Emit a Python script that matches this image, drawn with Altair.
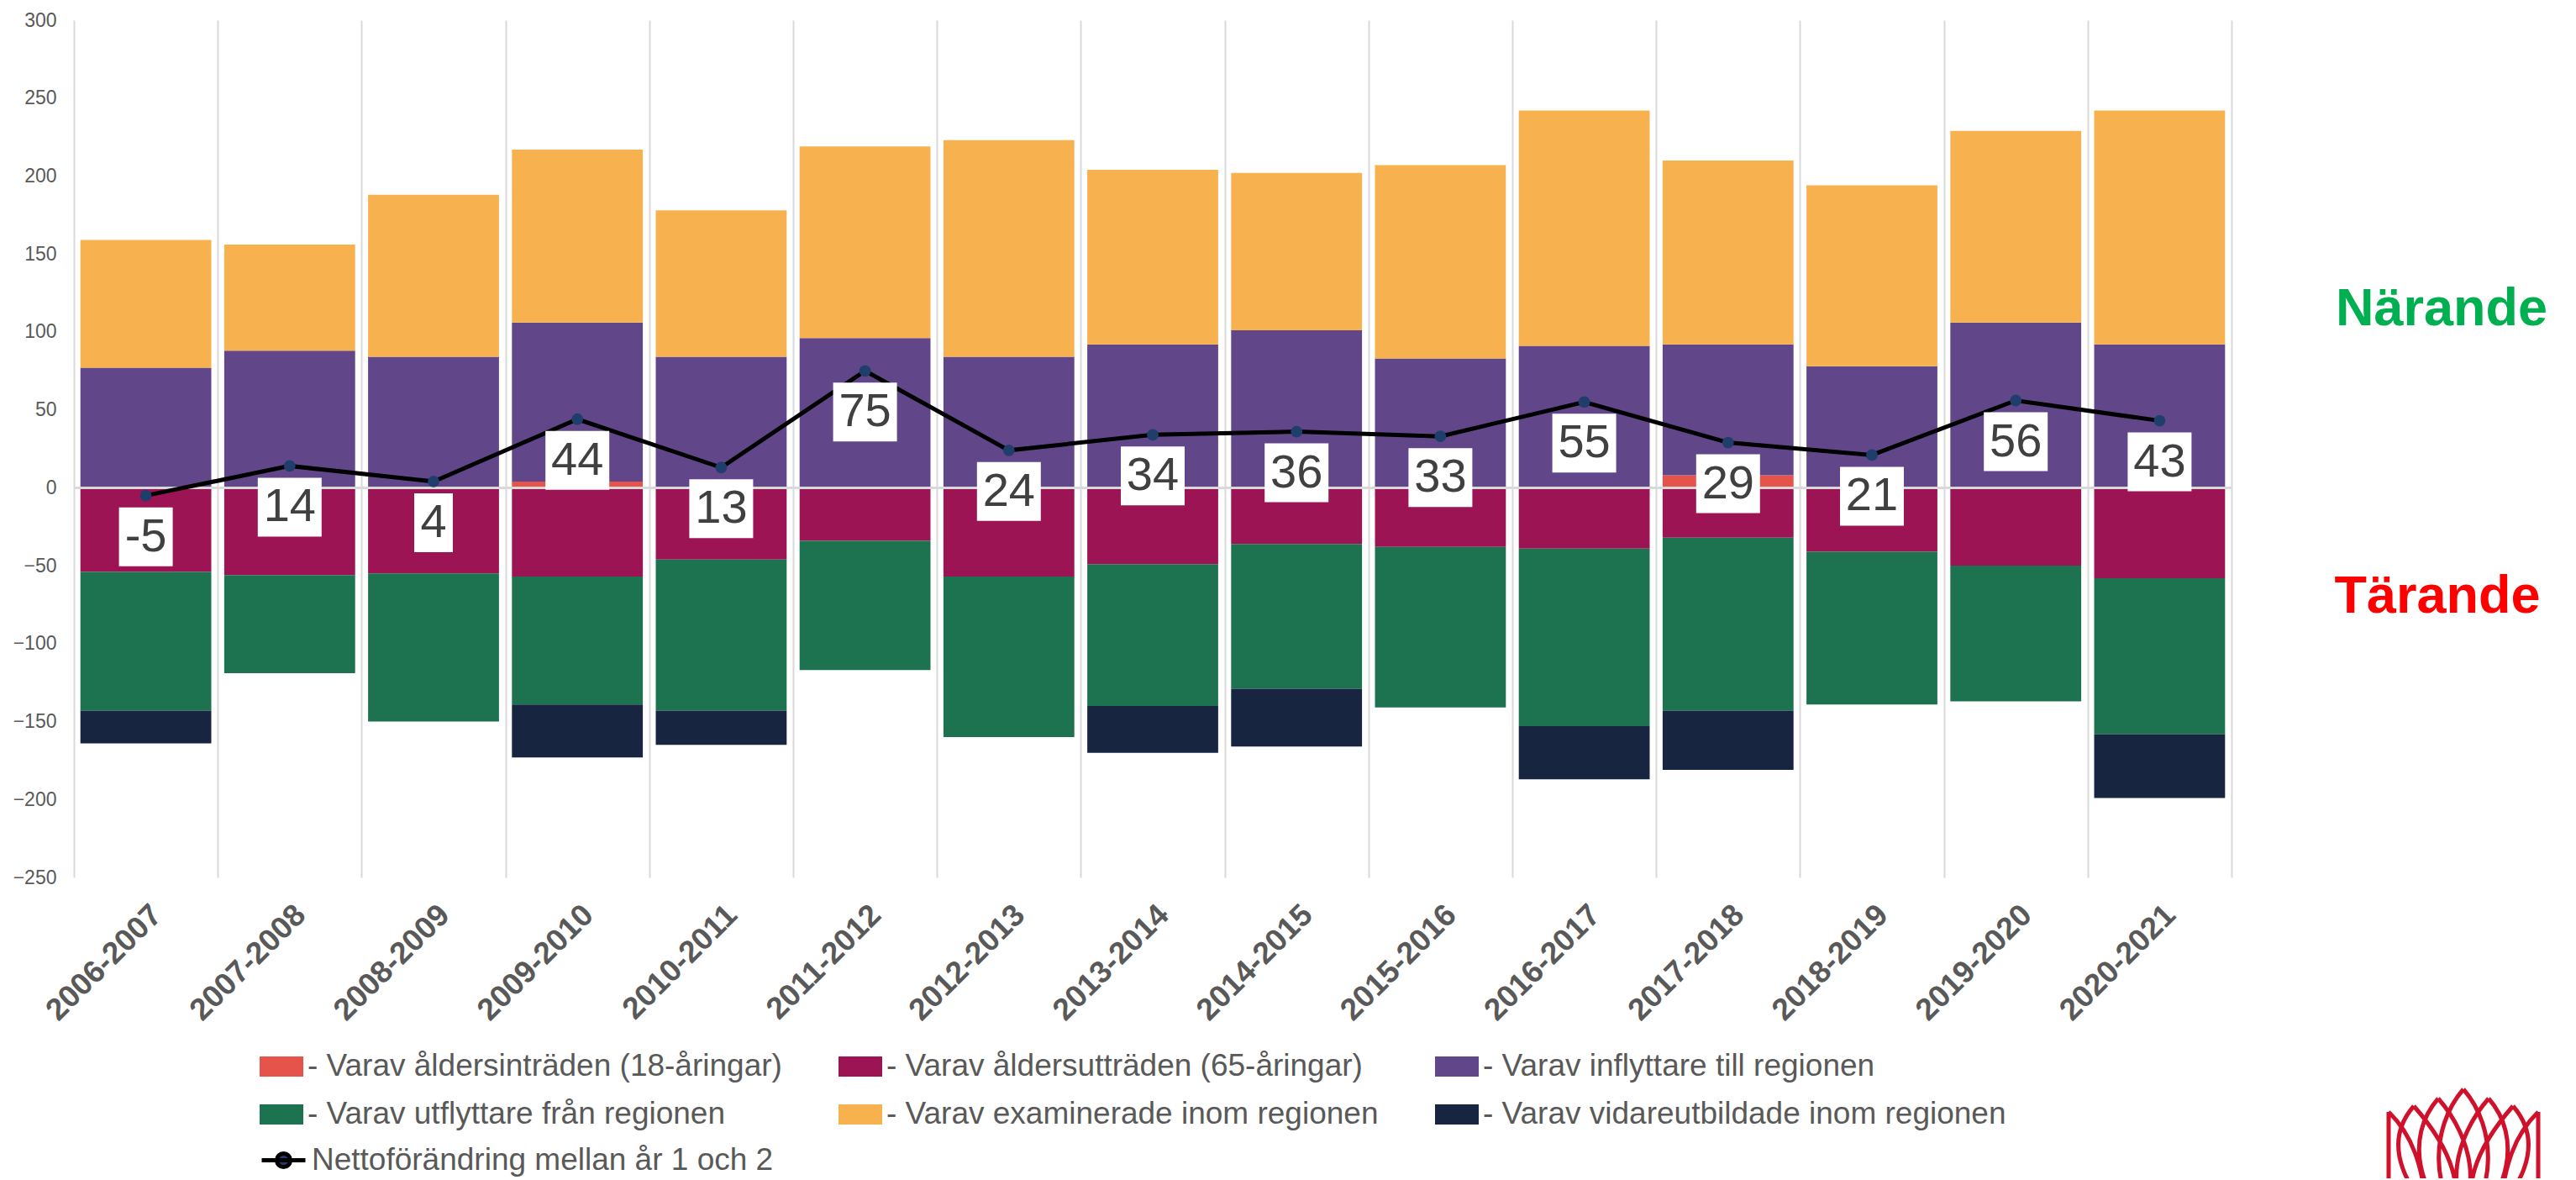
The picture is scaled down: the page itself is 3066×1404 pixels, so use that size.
import altair as alt
import pandas as pd

# ---------------- data ----------------
cats = ["2006-2007", "2007-2008", "2008-2009", "2009-2010", "2010-2011",
        "2011-2012", "2012-2013", "2013-2014", "2014-2015", "2015-2016",
        "2016-2017", "2017-2018", "2018-2019", "2019-2020", "2020-2021"]

series_names = ["Varav åldersinträden (18-åringar)",
                "Varav åldersutträden (65-åringar)",
                "Varav inflyttare till regionen",
                "Varav utflyttare från regionen",
                "Varav examinerade inom regionen",
                "Varav vidareutbildade inom regionen"]
series_colors = ["#E5534A", "#9D1454", "#61478A", "#1D7250", "#F7B24F", "#172540"]

aldersintraden = [0, 0, 0, 4, 0, 0, 0, 0, 0, 0, 0, 8, 0, 0, 0]
aldersuttraden = [-54, -56, -55, -57, -46, -34, -57, -49, -36, -38, -39, -32, -41, -50, -58]
inflyttare = [77, 88, 84, 102, 84, 96, 84, 92, 101, 83, 91, 84, 78, 106, 92]
utflyttare = [-89, -63, -95, -82, -97, -83, -103, -91, -93, -103, -114, -111, -98, -87, -100]
examinerade = [82, 68, 104, 111, 94, 123, 139, 112, 101, 124, 151, 118, 116, 123, 150]
vidareutbildade = [-21, 0, 0, -34, -22, 0, 0, -30, -37, 0, -34, -38, 0, 0, -41]

netto = [-5, 14, 4, 44, 13, 75, 24, 34, 36, 33, 55, 29, 21, 56, 43]
netto_name = "Nettoförändring mellan år 1 och 2"

y_ticks = [-250, -200, -150, -100, -50, 0, 50, 100, 150, 200, 250, 300]

# ---------------- tables ----------------
series_values = [aldersintraden, aldersuttraden, inflyttare, utflyttare,
                 examinerade, vidareutbildade]
rows = []
for k, (name, vals) in enumerate(zip(series_names, series_values)):
    for c, v in zip(cats, vals):
        if v != 0:
            rows.append({"cat": c, "serie": name, "val": v, "ord": k})
bars_df = pd.DataFrame(rows)

labels = [str(v) for v in netto]
widths = ["neg" if s.startswith("-") else str(len(s)) for s in labels]
line_df = pd.DataFrame({"cat": cats, "val": netto, "lbl": labels, "w": widths,
                        "serie": [netto_name] * len(cats)})

# ---------------- styles ----------------
FONT = "Liberation Sans"
GREY = "#595959"
W, H = 2568, 1020

x_enc = alt.X("cat:N", sort=cats,
              scale=alt.Scale(paddingInner=0, paddingOuter=0),
              axis=alt.Axis(title=None, labelAngle=-45, labelFontSize=37,
                            labelFontWeight="bold", labelColor=GREY, labelFont=FONT,
                            labelPadding=26, ticks=False, domain=False, grid=True,
                            gridColor="#D9D9D9", gridWidth=2, tickBand="extent",
                            labelLimit=1000))
y_axis = alt.Axis(title=None, values=y_ticks, grid=False, domain=False, ticks=False,
                  labelFontSize=23, labelColor=GREY, labelFont=FONT, labelPadding=21)
y_scale = alt.Scale(domain=[-250, 300], nice=False, zero=False)

rect_path = "M-1,-0.46L1,-0.46L1,0.46L-1,0.46Z"
line_sym = "M-1,0L1,0M-0.31,0A0.31,0.31,0,1,0,0.31,0A0.31,0.31,0,1,0,-0.31,0Z"

bars = alt.Chart(bars_df).mark_bar(width=alt.RelativeBandSize(0.91)).encode(
    x=x_enc,
    y=alt.Y("val:Q", stack="zero", scale=y_scale, axis=y_axis),
    color=alt.Color("serie:N",
                    scale=alt.Scale(domain=series_names, range=series_colors),
                    legend=alt.Legend(title=None, orient="none", legendX=221, legendY=1219,
                                      direction="horizontal", columns=3, columnPadding=67,
                                      rowPadding=13, symbolType=rect_path, symbolSize=2704,
                                      symbolStrokeWidth=0, labelFontSize=37,
                                      labelColor=GREY, labelFont=FONT, labelLimit=1200,
                                      labelOffset=5, labelExpr="'- ' + datum.label",
                                      padding=0)),
    order=alt.Order("ord:Q", sort="ascending"),
)

zero_rule = alt.Chart(line_df).mark_rule(color="#D9D9D9", strokeWidth=2).encode(
    y=alt.datum(0)
)

y_plain = alt.Y("val:Q", stack=None, scale=y_scale, axis=y_axis)

line = alt.Chart(line_df).mark_line(strokeWidth=5).encode(
    x=x_enc, y=y_plain,
    stroke=alt.Stroke("serie:N", scale=alt.Scale(domain=[netto_name], range=["#000000"]),
                      legend=alt.Legend(title=None, orient="none", legendX=221, legendY=1328,
                                        symbolType=line_sym, symbolSize=2704,
                                        symbolStrokeWidth=5, symbolFillColor="#203E6C",
                                        labelFontSize=37, labelColor=GREY, labelFont=FONT,
                                        labelLimit=1200, labelOffset=5, padding=0)),
)

points = alt.Chart(line_df).mark_point(filled=True, size=190, color="#203E6C",
                                       opacity=1).encode(x=x_enc, y=y_plain)

box_keys = ["1", "2", "neg"]
box_paths = ["M-0.575,-0.875L0.575,-0.875L0.575,0.875L-0.575,0.875Z",
             "M-0.95,-0.875L0.95,-0.875L0.95,0.875L-0.95,0.875Z",
             "M-0.8,-0.875L0.8,-0.875L0.8,0.875L-0.8,0.875Z"]

boxes = alt.Chart(line_df).mark_point(filled=True, color="white", opacity=1, size=6400,
                                      yOffset=49, strokeWidth=0).encode(
    x=x_enc, y=y_plain,
    shape=alt.Shape("w:N", scale=alt.Scale(domain=box_keys, range=box_paths), legend=None),
)

texts = alt.Chart(line_df).mark_text(dy=49, fontSize=56, color="#404040", font=FONT,
                                     baseline="middle").encode(
    x=x_enc, y=y_plain, text="lbl:N")

narande = alt.Chart(line_df.head(1)).mark_text(
    text="Närande", fontSize=63, fontWeight="bold", font=FONT, color="#00B050",
    align="center", baseline="middle").encode(x=alt.value(2818), y=alt.datum(114.5))
tarande = alt.Chart(line_df.head(1)).mark_text(
    text="Tärande", fontSize=63, fontWeight="bold", font=FONT, color="#FF0000",
    align="center", baseline="middle").encode(x=alt.value(2813), y=alt.datum(-70))

# decorative logo (petal outlines)
def petal(ax, ay):
    bx = ax * 0.45
    return (f"M{ax},{ay}C{ax-42},{ay+48} {bx-36},18 {bx},48"
            f"M{ax},{ay}C{ax+42},{ay+48} {bx+36},18 {bx},48")

logo_path = "".join(petal(a, b) for a, b in [(-59, -88), (-30, -97), (0, -108), (30, -97), (59, -88)])
logo_path += "M-89,-81L-89,48M-89,-81C-62,-55 -48,-20 -42,48"
logo_path += "M89,-81L89,48M89,-81C62,-55 48,-20 42,48"

logo = alt.Chart(line_df.head(1)).mark_point(
    shape=logo_path, size=4, filled=False, color="#D0112B", strokeWidth=5, opacity=1
).encode(x=alt.value(2844), y=alt.value(1380))

chart = alt.layer(bars, zero_rule, line, points, boxes, texts, narande, tarande, logo).properties(
    width=W, height=H,
    padding={"left": 80, "top": 16, "right": 402, "bottom": 358},
    autosize=alt.AutoSizeParams(type="none"),
).configure(font=FONT).configure_view(stroke=None)

chart.save("out.html", embed_options={"renderer": "svg", "actions": False})
